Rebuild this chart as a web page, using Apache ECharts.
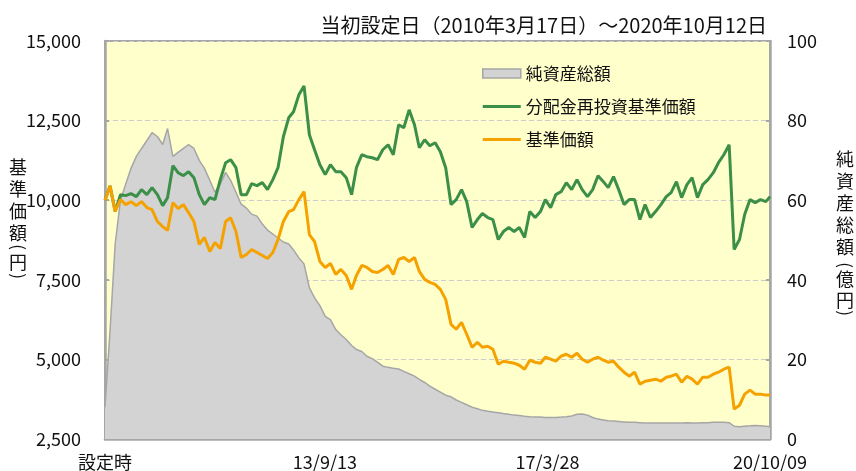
<!DOCTYPE html>
<html><head><meta charset="utf-8">
<script src="https://cdn.jsdelivr.net/npm/echarts@6/dist/echarts.min.js"></script>
<style>html,body{margin:0;padding:0;background:#fff}#c{width:856px;height:471px}</style>
</head><body><div id="c"></div>
<script>
const dates = [
'2010-03-17','2010-04-15','2010-05-15','2010-06-15','2010-07-15','2010-08-15','2010-09-15','2010-10-15','2010-11-15','2010-12-15',
'2011-01-15','2011-02-15','2011-03-15','2011-04-15','2011-05-15','2011-06-15','2011-07-15','2011-08-15','2011-09-15','2011-10-15','2011-11-15','2011-12-15',
'2012-01-15','2012-02-15','2012-03-15','2012-04-15','2012-05-15','2012-06-15','2012-07-15','2012-08-15','2012-09-15','2012-10-15','2012-11-15','2012-12-15',
'2013-01-15','2013-02-15','2013-03-15','2013-04-15','2013-05-15','2013-06-15','2013-07-15','2013-08-15','2013-09-15','2013-10-15','2013-11-15','2013-12-15',
'2014-01-15','2014-02-15','2014-03-15','2014-04-15','2014-05-15','2014-06-15','2014-07-15','2014-08-15','2014-09-15','2014-10-15','2014-11-15','2014-12-15',
'2015-01-15','2015-02-15','2015-03-15','2015-04-15','2015-05-15','2015-06-15','2015-07-15','2015-08-15','2015-09-15','2015-10-15','2015-11-15','2015-12-15',
'2016-01-15','2016-02-15','2016-03-15','2016-04-15','2016-05-15','2016-06-15','2016-07-15','2016-08-15','2016-09-15','2016-10-15','2016-11-15','2016-12-15',
'2017-01-15','2017-02-15','2017-03-15','2017-04-15','2017-05-15','2017-06-15','2017-07-15','2017-08-15','2017-09-15','2017-10-15','2017-11-15','2017-12-15',
'2018-01-15','2018-02-15','2018-03-15','2018-04-15','2018-05-15','2018-06-15','2018-07-15','2018-08-15','2018-09-15','2018-10-15','2018-11-15','2018-12-15',
'2019-01-15','2019-02-15','2019-03-15','2019-04-15','2019-05-15','2019-06-15','2019-07-15','2019-08-15','2019-09-15','2019-10-15','2019-11-15','2019-12-15',
'2020-01-15','2020-02-15','2020-03-15','2020-04-15','2020-05-15','2020-06-15','2020-07-15','2020-08-15','2020-09-15','2020-10-09'
];
// 純資産総額（億円）
const netAssets = [
8,27,49,60,64,68,71,73,75,77,
76,74,78,71,72,73,74,73,70,68,
65,62,64,67,65,62,59,58,56.5,56,
54,52.5,51.5,50.5,49.5,49,47.5,45.5,44,38,
35.5,33.5,30.8,30,27.5,26.2,25,23.5,22.5,22,
20.8,20.2,19.3,18.3,18,17.8,17.6,17,16.4,15.8,
15,14.2,13.3,12.5,11.8,11,10.6,9.8,9.2,8.6,
8,7.6,7.2,7,6.8,6.6,6.4,6.2,6,5.9,
5.7,5.6,5.5,5.5,5.4,5.4,5.4,5.5,5.6,5.8,
6.2,6.3,6.0,5.4,5.0,4.8,4.6,4.5,4.4,4.3,
4.2,4.2,4.1,4.0,4.0,4.0,4.0,4.0,4.0,4.0,
4.0,4.1,4.0,4.0,4.1,4.1,4.2,4.2,4.2,4.1,
3.2,3.1,3.2,3.3,3.4,3.3,3.2,3.1
];
// 分配金再投資基準価額（円）
const reinvestNav = [
10000,10450,9650,10175,10144,10206,10112,10332,10175,10394,
10175,9830,10081,11084,10864,10770,10896,10708,10175,9862,
10081,10019,10645,11178,11272,11021,10175,10175,10520,10457,
10551,10332,10645,11021,11992,12588,12776,13308,13590,12055,
11585,11115,10802,11115,10896,10896,10708,10175,11021,11428,
11366,11334,11272,11585,11742,11428,12368,12274,12838,12368,
11648,11898,11710,11804,11522,11021,9862,10019,10332,9956,
9142,9392,9580,9455,9392,8765,9015,9142,9015,9142,
8828,9643,9455,9643,10019,9768,10175,10269,10551,10332,
10645,10332,10112,10332,10770,10582,10394,10739,10332,9862,
10019,10019,9392,9862,9455,9643,9862,10112,10238,10582,
10081,10488,10708,10081,10488,10645,10864,11178,11428,11742,
8452,8765,9549,10019,9924,10019,9956,10112
];
// 基準価額（円）
const nav = [
10000,10450,9650,10019,9860,9950,9830,9956,9770,9705,
9330,9172,9050,9924,9740,9860,9611,9330,8610,8830,
8390,8671,8480,9330,9450,9015,8200,8295,8452,8358,
8264,8170,8358,8765,9330,9640,9705,10019,10269,8920,
8703,8076,7888,8013,7669,7825,7637,7200,7637,7950,
7888,7762,7731,7825,7950,7669,8139,8200,8076,8200,
7762,7512,7418,7355,7199,6886,6100,5946,6165,5790,
5380,5538,5380,5415,5319,4849,4943,4911,4880,4817,
4692,4975,4911,4880,5068,5006,4943,5100,5162,5068,
5194,5006,4911,5006,5068,4975,4911,4943,4755,4598,
4473,4598,4222,4316,4348,4379,4316,4441,4473,4535,
4285,4473,4379,4222,4441,4441,4535,4598,4692,4755,
3440,3560,3909,4035,3909,3909,3878,3878
];
const xTickDates = ['2010-03-17','2013-09-13','2017-03-28','2020-10-09'];
const xTickLabels = ['設定時','13/9/13','17/3/28','20/10/09'];
const leftTicks = [2500, 15000, 2500]; // min, max, interval
const rightTicks = [0, 100, 20];
const titleText = '当初設定日（2010年3月17日）～2020年10月12日';
const seriesNames = ['純資産総額','分配金再投資基準価額','基準価額'];
const colors = { area: '#d3d3d3', areaLine: '#a6a6a6', green: '#3b8f48', orange: '#f5a200' };

const FONT = "'Noto Sans CJK JP', 'Liberation Sans', sans-serif";
const ts = s => new Date(s + 'T00:00:00').getTime();
const tickTs = xTickDates.map(ts);
const pair = arr => dates.map((d, i) => [ts(d), arr[i]]);
const GRID = { left: 105, right: 86, top: 41, bottom: 31 };
const AX = '#a6a6a6';
const LINE_ICON = 'path://M0,0H38V3H0Z';

const chart = echarts.init(document.getElementById('c'), null, { renderer: 'canvas' });

function vertText(chars, x, yStart, step) {
  return chars.map((c, i) => ({
    type: 'text', x: x, y: yStart + i * step,
    style: { text: c, font: '18px ' + FONT, fill: '#111', align: 'center', verticalAlign: 'middle' }
  }));
}
function paren(ch, x, y) {
  return { type: 'text', x: x, y: y, rotation: -Math.PI / 2,
    style: { text: ch, font: '17px ' + FONT, fill: '#111', align: 'center', verticalAlign: 'middle' } };
}

const graphics = [].concat(
  vertText(['基','準','価','額'], 18, 167, 22),
  [paren('(', 18, 247), { type: 'text', x: 18, y: 262, style: { text: '円', font: '18px ' + FONT, fill: '#111', align: 'center', verticalAlign: 'middle' } }, paren(')', 18, 276)],
  vertText(['純','資','産','総','額'], 845, 159, 22),
  [paren('(', 845, 265)],
  vertText(['億','円'], 845, 279, 21),
  [paren(')', 845, 313)]
);

function labelFor(v) {
  let k = 0, best = Infinity;
  tickTs.forEach((t, i) => { const d = Math.abs(t - v); if (d < best) { best = d; k = i; } });
  return xTickLabels[k];
}

chart.setOption({
  animation: false,
  backgroundColor: '#ffffff',
  textStyle: { fontFamily: FONT },
  title: {
    text: titleText, right: 84, top: 10,
    textStyle: { fontSize: 20, fontWeight: 'normal', color: '#111', fontFamily: FONT }
  },
  grid: Object.assign({ show: true, backgroundColor: '#ffffcc', borderColor: AX, borderWidth: 2 }, GRID),
  legend: {
    orient: 'vertical', left: 477, top: 60, itemWidth: 38, itemHeight: 9, itemGap: 16,
    textStyle: { fontSize: 17, color: '#111', fontFamily: FONT },
    data: [
      { name: seriesNames[0], icon: 'rect', itemStyle: { color: colors.area, borderColor: colors.areaLine, borderWidth: 1.5 } },
      { name: seriesNames[1], icon: LINE_ICON, itemStyle: { color: colors.green, borderWidth: 0 } },
      { name: seriesNames[2], icon: LINE_ICON, itemStyle: { color: colors.orange, borderWidth: 0 } }
    ]
  },
  xAxis: {
    type: 'value', min: tickTs[0], max: tickTs[3], scale: true,
    axisLine: { lineStyle: { color: AX, width: 2.5 } },
    axisTick: { show: true, inside: true, length: 4, lineStyle: { color: AX, width: 2 }, customValues: tickTs.slice(1, 3) },
    axisLabel: {
      customValues: tickTs, showMinLabel: true, showMaxLabel: true,
      margin: 14, fontSize: 18, color: '#111', fontFamily: FONT,
      formatter: labelFor
    },
    splitLine: { show: false }
  },
  yAxis: [
    {
      type: 'value', min: leftTicks[0], max: leftTicks[1], interval: leftTicks[2], position: 'left',
      axisLine: { show: true, lineStyle: { color: AX, width: 2.5 } },
      axisTick: { show: true, inside: true, length: 4, lineStyle: { color: AX, width: 2 } },
      axisLabel: { margin: 24, fontSize: 18, color: '#111', fontFamily: FONT, formatter: v => v.toLocaleString('en-US') },
      splitLine: { show: true, lineStyle: { color: '#cccccc', type: [5, 3], width: 1 } }
    },
    {
      type: 'value', min: rightTicks[0], max: rightTicks[1], interval: rightTicks[2], position: 'right',
      axisLine: { show: true, lineStyle: { color: AX, width: 2.5 } },
      axisTick: { show: true, inside: true, length: 4, lineStyle: { color: AX, width: 2 } },
      axisLabel: { margin: 17, fontSize: 18, color: '#111', fontFamily: FONT },
      splitLine: { show: false }
    }
  ],
  series: [
    {
      name: seriesNames[0], type: 'line', yAxisIndex: 1, data: pair(netAssets),
      symbol: 'none', showSymbol: false, color: colors.area,
      lineStyle: { color: colors.areaLine, width: 1.5 },
      areaStyle: { color: colors.area, opacity: 1 }, z: 1
    },
    {
      name: seriesNames[1], type: 'line', yAxisIndex: 0, data: pair(reinvestNav),
      symbol: 'none', showSymbol: false, color: colors.green, lineStyle: { color: colors.green, width: 3 }, z: 2
    },
    {
      name: seriesNames[2], type: 'line', yAxisIndex: 0, data: pair(nav),
      symbol: 'none', showSymbol: false, color: colors.orange, lineStyle: { color: colors.orange, width: 3 }, z: 3
    }
  ],
  graphic: graphics
});
</script></body></html>
